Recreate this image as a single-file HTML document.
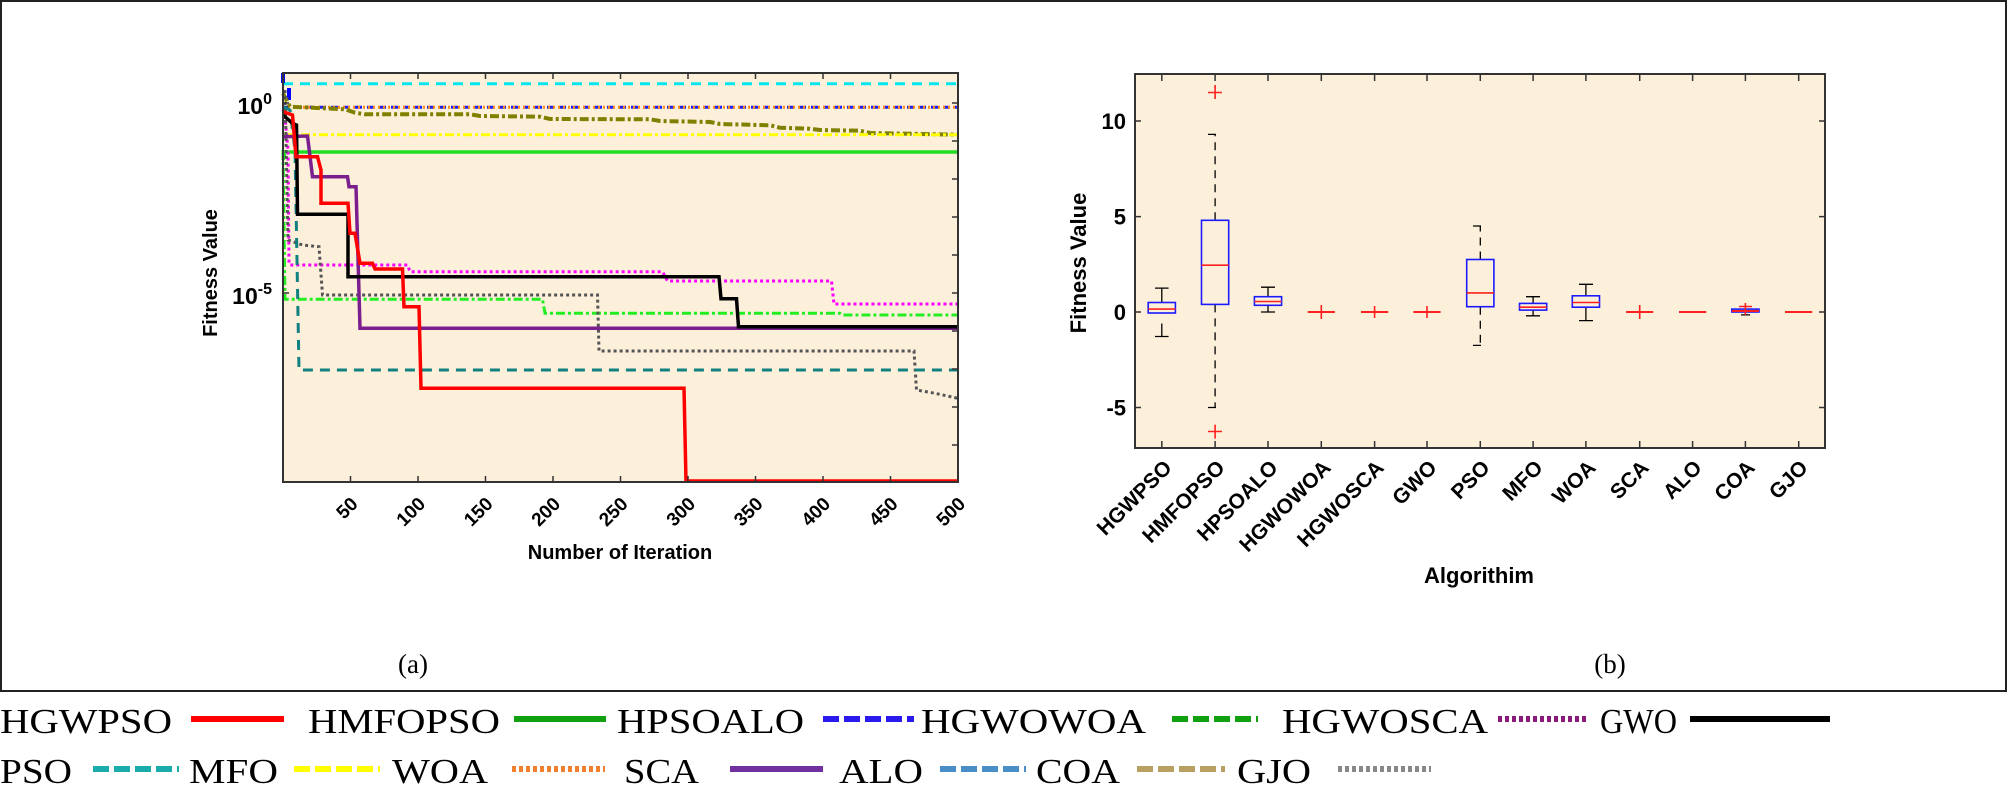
<!DOCTYPE html>
<html><head><meta charset="utf-8"><style>
html,body{margin:0;padding:0;background:#fff;}
svg{display:block;}
.ax{font-family:"Liberation Sans",Arial,sans-serif;font-weight:bold;fill:#000;}
.lg{font-family:"Liberation Serif",serif;font-size:35px;fill:#000;}
</style></head><body>
<svg width="2008" height="792" viewBox="0 0 2008 792" xmlns="http://www.w3.org/2000/svg">
<rect x="1" y="1" width="2005" height="690" fill="#fff" stroke="#222" stroke-width="2"/>

<!-- LEFT PLOT -->
<rect x="283" y="73" width="675" height="409" fill="#fdf0db"/>
<g fill="none" stroke-width="3" stroke-linejoin="miter">
<polyline points="283,83.7 958,83.7" stroke="#00e5ee" stroke-dasharray="10,7"/>
<polyline points="283,107.3 958,107.3" stroke="#2020ee" stroke-dasharray="7,5"/>
<polyline points="283,107.3 958,107.3" stroke="#ff8c1a" stroke-dasharray="2,3"/>
<line x1="283" y1="73" x2="283" y2="83" stroke="#0000ff" stroke-width="4"/>
<line x1="289" y1="88" x2="289" y2="100" stroke="#0000ff" stroke-width="4"/>
<polyline points="283,93.3 290,106.7 345,109.3 355,112.7 365,114.3 470,114.3 480,116 540,116.7 550,119 650,119.3 660,121 710,122 720,124 770,125.3 780,127.7 810,128.7 820,130 860,130.7 870,133 958,134.7" stroke="#808000" stroke-width="4" stroke-dasharray="9,3,3,3"/>
<polyline points="283,134.7 958,134.7" stroke="#ffff00" stroke-dasharray="9,3,3,3"/>
<polyline points="283,160 285,152 958,152" stroke="#22dd22" stroke-width="3.5"/>
<polyline points="283,150 285,299.3 542.5,299.3 545,313.3 840,313.3 842.5,315 958,315" stroke="#22ee22" stroke-dasharray="9,3,3,3"/>
<polyline points="283,110 285,116.7 288,150 289,263.3 290,265 407.5,265 410,271.7 662.5,271.7 667.5,281 831.5,281 834,304 958,304" stroke="#ff00ff" stroke-dasharray="3,3"/>
<polyline points="285,90 288,240 302.5,245 319,246.7 322.5,295 597.5,295 599,351 914,351 916.5,390 935,393.3 958,398.3" stroke="#555" stroke-dasharray="3,3"/>
<polyline points="283,106.7 290,110 295,150 299,370 958,370" stroke="#108080" stroke-dasharray="10,7"/>
<polyline points="283,136.7 307.5,136 312.5,176.7 347.5,176.7 349,186.7 356,186.7 360,328.3 958,328.3" stroke="#7b1f8f" stroke-width="3.5"/>
<polyline points="283,115 292.5,123.3 296.5,125 297.5,214.3 348,214.3 348,276.7 719,276.7 721,298.7 736.5,298.7 738.5,326.7 958,326.7" stroke="#000" stroke-width="3.5"/>
<polyline points="283,111.7 292.5,115 296,156.7 317.5,156.7 321,170 321,203.3 348,203.3 350,233.3 355,233.3 360,263.3 372.5,263.3 375,269 402.5,269 404,306.7 419,306.7 421,388.3 684,388.3 686,481 958,481" stroke="#ff0000" stroke-width="3.5"/>
</g>
<rect x="283" y="73" width="675" height="409" fill="none" stroke="#333" stroke-width="2"/>
<g stroke="#333" stroke-width="1.5">
<path d="M350.5,482v-6M418,482v-6M485.5,482v-6M553,482v-6M620.5,482v-6M688,482v-6M755.5,482v-6M823,482v-6M890.5,482v-6"/>
<path d="M350.5,73v6M418,73v6M485.5,73v6M553,73v6M620.5,73v6M688,73v6M755.5,73v6M823,73v6M890.5,73v6"/>
<path d="M952,103h6M952,141h6M952,179h6M952,217h6M952,255h6M952,293h6M952,331h6M952,369h6M952,407h6M952,445h6M283,103h6M283,293h6"/>
</g>
<g class="ax" font-size="19">
<text x="272" y="114" text-anchor="end" font-size="23">10<tspan dy="-10" font-size="16">0</tspan></text>
<text x="272" y="304" text-anchor="end" font-size="23">10<tspan dy="-10" font-size="16">-5</tspan></text>
<text transform="translate(217,273) rotate(-90)" text-anchor="middle" font-size="20">Fitness Value</text>
<g text-anchor="end">
<text transform="translate(359,505) rotate(-45)">50</text>
<text transform="translate(426.5,505) rotate(-45)">100</text>
<text transform="translate(494,505) rotate(-45)">150</text>
<text transform="translate(561.5,505) rotate(-45)">200</text>
<text transform="translate(629,505) rotate(-45)">250</text>
<text transform="translate(696.5,505) rotate(-45)">300</text>
<text transform="translate(764,505) rotate(-45)">350</text>
<text transform="translate(831.5,505) rotate(-45)">400</text>
<text transform="translate(899,505) rotate(-45)">450</text>
<text transform="translate(966.5,505) rotate(-45)">500</text>
</g>
<text x="620" y="559" text-anchor="middle" font-size="20">Number of Iteration</text>
</g>

<!-- RIGHT PLOT -->
<rect x="1135" y="74" width="690" height="374" fill="#fdf0db"/>
<g stroke="#000" stroke-width="1.3" fill="none">
<path d="M1161.8,323.5V336.5M1161.8,302.5V288.1M1155,336.5h13.6M1155,288.1h13.6"/>
<path d="M1215.1,304.4V407.5M1215.1,220.3V134.4M1208,407.5h14M1208,134.4h14" stroke-dasharray="8,6"/>
<path d="M1268,305.3V312M1268,296.7V287.2M1261,312h14M1261,287.2h14"/>
<path d="M1480.3,306.7V345.4M1480.3,259.5V226M1473,345.4h14M1473,226h14" stroke-dasharray="8,6"/>
<path d="M1533.1,310.1V315.8M1533.1,303.4V296.7M1526,315.8h14M1526,296.7h14"/>
<path d="M1585.9,307.2V320.6M1585.9,295.8V284.3M1579,320.6h14M1579,284.3h14"/>
<path d="M1745.4,312V314.9M1741,314.9h9"/>
</g>
<g stroke="#1a1aff" stroke-width="1.6" fill="none">
<rect x="1148.2" y="302.5" width="27.2" height="10.5"/>
<rect x="1201.5" y="220.3" width="27.2" height="84.1"/>
<rect x="1254.4" y="296.7" width="27.2" height="8.6"/>
<rect x="1466.7" y="259.5" width="27.2" height="47.2"/>
<rect x="1519.5" y="303.4" width="27.2" height="6.7"/>
<rect x="1572.3" y="295.8" width="27.2" height="11.4"/>
<rect x="1731.8" y="309.1" width="27.2" height="2.9"/>
</g>
<g stroke="#ff2020" stroke-width="1.6" fill="none">
<path d="M1148.2,309.1h27.2M1201.5,265.2h27.2M1254.4,301.5h27.2M1466.7,292.9h27.2M1519.5,307.2h27.2M1572.3,302.5h27.2"/>
<path d="M1307.7,312h27.2M1361,312h27.2M1413.4,312h27.2M1626,312h27.2M1679,312h27.2M1731.8,311h27.2M1785,312h27.2" stroke-width="2"/>
<path d="M1215.1,85v14M1208,92.5h14M1215.1,424.6v14M1208,431.5h14"/>
<path d="M1321.3,305v14M1314,312h14M1374.6,306v12M1368,312h13M1427,306v12M1420,312h13M1639.7,305v14M1633,312h14M1745.4,303v12M1739,306.5h13"/>
</g>
<rect x="1135" y="74" width="690" height="374" fill="none" stroke="#333" stroke-width="2"/>
<g stroke="#333" stroke-width="1.5">
<path d="M1135,121h6M1135,216.6h6M1135,312h6M1135,407.5h6M1819,121h6M1819,216.6h6M1819,312h6M1819,407.5h6"/>
<path d="M1161.8,448v-7M1215.1,448v-7M1268,448v-7M1321.3,448v-7M1374.6,448v-7M1427,448v-7M1480.3,448v-7M1533.1,448v-7M1585.9,448v-7M1639.7,448v-7M1692.6,448v-7M1745.4,448v-7M1798.7,448v-7"/>
<path d="M1161.8,74v7M1215.1,74v7M1268,74v7M1321.3,74v7M1374.6,74v7M1427,74v7M1480.3,74v7M1533.1,74v7M1585.9,74v7M1639.7,74v7M1692.6,74v7M1745.4,74v7M1798.7,74v7"/>
</g>
<g class="ax" font-size="22">
<text x="1126" y="129" text-anchor="end">10</text>
<text x="1126" y="224.5" text-anchor="end">5</text>
<text x="1126" y="320" text-anchor="end">0</text>
<text x="1126" y="415.5" text-anchor="end">-5</text>
<text transform="translate(1086,263) rotate(-90)" text-anchor="middle" font-size="22">Fitness Value</text>
<g text-anchor="end" font-size="21">
<text transform="translate(1173,469) rotate(-45)">HGWPSO</text>
<text transform="translate(1226,469) rotate(-45)">HMFOPSO</text>
<text transform="translate(1279,469) rotate(-45)">HPSOALO</text>
<text transform="translate(1332,469) rotate(-45)">HGWOWOA</text>
<text transform="translate(1385,469) rotate(-45)">HGWOSCA</text>
<text transform="translate(1438,469) rotate(-45)">GWO</text>
<text transform="translate(1491,469) rotate(-45)">PSO</text>
<text transform="translate(1544,469) rotate(-45)">MFO</text>
<text transform="translate(1597,469) rotate(-45)">WOA</text>
<text transform="translate(1650,469) rotate(-45)">SCA</text>
<text transform="translate(1703,469) rotate(-45)">ALO</text>
<text transform="translate(1756,469) rotate(-45)">COA</text>
<text transform="translate(1809,469) rotate(-45)">GJO</text>
</g>
<text x="1479" y="583" text-anchor="middle" font-size="22">Algorithim</text>
</g>

<text x="413" y="673" text-anchor="middle" font-family="Liberation Serif,serif" font-size="27">(a)</text>
<text x="1610" y="673" text-anchor="middle" font-family="Liberation Serif,serif" font-size="27">(b)</text>

<!-- LEGEND -->
<g class="lg">
<text x="0" y="733" textLength="172" lengthAdjust="spacingAndGlyphs">HGWPSO</text>
<text x="308" y="733" textLength="192" lengthAdjust="spacingAndGlyphs">HMFOPSO</text>
<text x="617" y="733" textLength="187" lengthAdjust="spacingAndGlyphs">HPSOALO</text>
<text x="921" y="733" textLength="225" lengthAdjust="spacingAndGlyphs">HGWOWOA</text>
<text x="1282" y="733" textLength="206" lengthAdjust="spacingAndGlyphs">HGWOSCA</text>
<text x="1600" y="733" textLength="77" lengthAdjust="spacingAndGlyphs">GWO</text>
<text x="0" y="783" textLength="72" lengthAdjust="spacingAndGlyphs">PSO</text>
<text x="189" y="783" textLength="89" lengthAdjust="spacingAndGlyphs">MFO</text>
<text x="392" y="783" textLength="96" lengthAdjust="spacingAndGlyphs">WOA</text>
<text x="624" y="783" textLength="75" lengthAdjust="spacingAndGlyphs">SCA</text>
<text x="839" y="783" textLength="84" lengthAdjust="spacingAndGlyphs">ALO</text>
<text x="1036" y="783" textLength="84" lengthAdjust="spacingAndGlyphs">COA</text>
<text x="1237" y="783" textLength="74" lengthAdjust="spacingAndGlyphs">GJO</text>
</g>
<g stroke-width="6" fill="none">
<line x1="191" y1="719" x2="284" y2="719" stroke="#ff0000"/>
<line x1="514" y1="719" x2="606" y2="719" stroke="#10a010"/>
<line x1="823" y1="719" x2="914" y2="719" stroke="#2a1aee" stroke-dasharray="16,5"/>
<line x1="1172" y1="719" x2="1258" y2="719" stroke="#10a010" stroke-dasharray="16,5"/>
<line x1="1498" y1="719" x2="1587" y2="719" stroke="#8b1a7a" stroke-dasharray="4,3"/>
<line x1="1690" y1="719" x2="1830" y2="719" stroke="#000"/>
<line x1="93" y1="769" x2="179" y2="769" stroke="#1aabab" stroke-dasharray="16,5"/>
<line x1="294" y1="769" x2="380" y2="769" stroke="#ffff00" stroke-dasharray="16,5"/>
<line x1="512" y1="769" x2="605" y2="769" stroke="#f08030" stroke-dasharray="4,3"/>
<line x1="730" y1="769" x2="823" y2="769" stroke="#7030a0"/>
<line x1="940" y1="769" x2="1026" y2="769" stroke="#4a8ec8" stroke-dasharray="16,5"/>
<line x1="1137" y1="769" x2="1225" y2="769" stroke="#b8a060" stroke-dasharray="16,5"/>
<line x1="1338" y1="769" x2="1431" y2="769" stroke="#888" stroke-dasharray="4,3"/>
</g>
</svg>
</body></html>
